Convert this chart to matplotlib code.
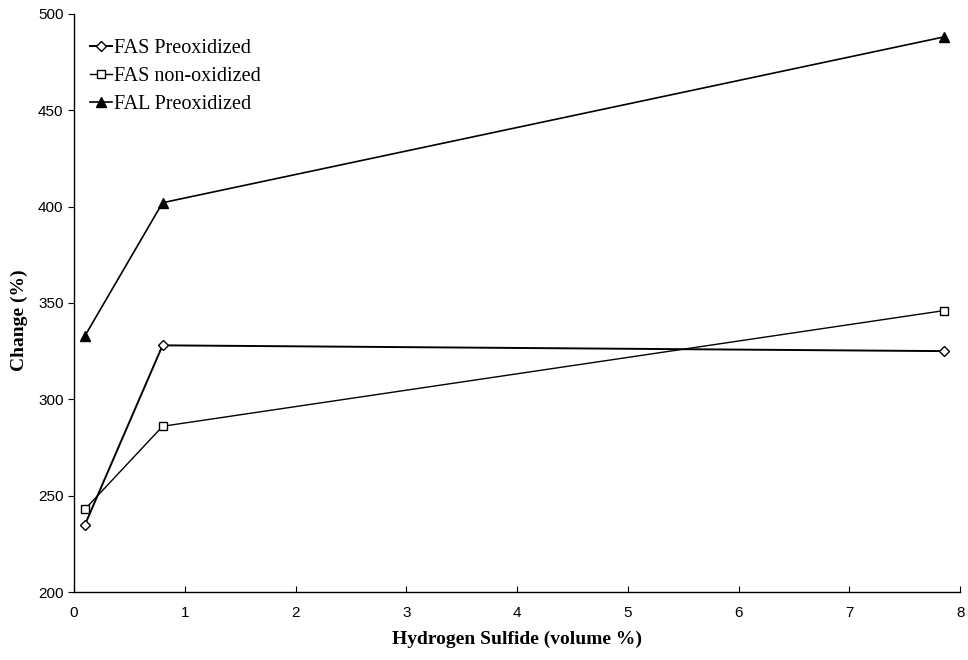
import matplotlib
matplotlib.use("Agg")
import matplotlib.pyplot as plt

# H2S concentration (volume %) and percent change for each sample
h2s = [0.1, 0.8, 7.85]
fas_preox = [235, 328, 325]
fas_nonox = [243, 286, 346]
fal_preox = [333, 402, 488]

x_ticks = [0, 1, 2, 3, 4, 5, 6, 7, 8]
y_ticks = [200, 250, 300, 350, 400, 450, 500]

fig = plt.figure(figsize=(9.68, 6.60), dpi=100)
ax = fig.add_axes([0.0764, 0.103, 0.9156, 0.876])

ax.plot(h2s, fas_preox, color="black", lw=1.4, marker="D", ms=5.5,
        mfc="white", mec="black", mew=1.0, label="FAS Preoxidized")
ax.plot(h2s, fas_nonox, color="black", lw=1.0, marker="s", ms=6,
        mfc="white", mec="black", mew=1.0, label="FAS non-oxidized")
ax.plot(h2s, fal_preox, color="black", lw=1.2, marker="^", ms=7,
        mfc="black", mec="black", label="FAL Preoxidized")

ax.set_xlim(0, 8)
ax.set_ylim(200, 500)
ax.set_xticks(x_ticks)
ax.set_yticks(y_ticks)
for s in ("top", "right"):
    ax.spines[s].set_visible(False)
for s in ("left", "bottom"):
    ax.spines[s].set_linewidth(1.0)

ax.tick_params(axis="both", labelsize=11, length=4, width=0.8, colors="black")
ax.tick_params(axis="x", direction="in", pad=10)
for lbl in ax.get_xticklabels() + ax.get_yticklabels():
    lbl.set_fontfamily("Liberation Sans")

ax.set_xlabel("Hydrogen Sulfide (volume %)", fontfamily="Liberation Serif",
              fontweight="bold", fontsize=14, labelpad=8)
ax.set_ylabel("Change (%)", fontfamily="Liberation Serif",
              fontweight="bold", fontsize=14)
ax.yaxis.set_label_coords(-0.052, 0.47)

leg = ax.legend(loc="upper left", bbox_to_anchor=(0.0, 0.985), frameon=False,
                prop={"family": "Liberation Serif", "size": 14.5},
                handlelength=1.1, handletextpad=0.1, labelspacing=0.45,
                borderpad=0.3)

fig.savefig("out.png", dpi=100)
